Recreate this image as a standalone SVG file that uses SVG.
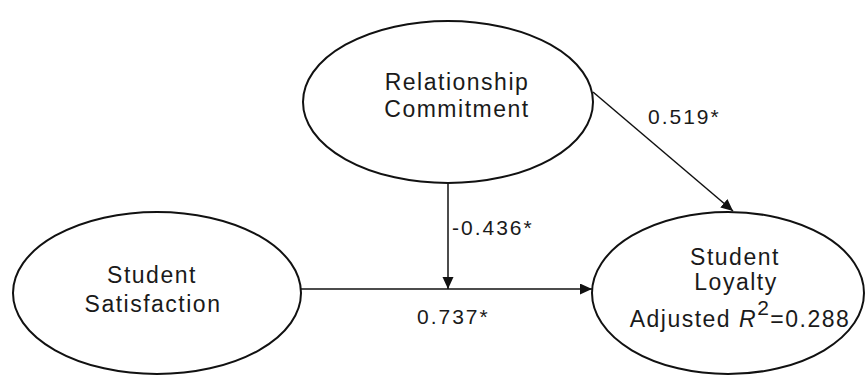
<svg xmlns="http://www.w3.org/2000/svg" width="867" height="376" viewBox="0 0 867 376">
<style>
.node{fill:#fff;stroke:#111;stroke-width:2}
.lbl{font-family:"Liberation Sans",Arial,sans-serif;font-size:23px;letter-spacing:1.5px;fill:#1a1a1a;text-anchor:middle}
.num{font-family:"Liberation Sans",Arial,sans-serif;font-size:21px;letter-spacing:2px;fill:#1a1a1a}
.edge{stroke:#111;stroke-width:1.5;fill:none}
</style>
<defs>
<marker id="ah" markerUnits="userSpaceOnUse" markerWidth="13" markerHeight="12" refX="12" refY="5.5" orient="auto">
<path d="M0,0 L12,5.5 L0,11 z" fill="#111"/>
</marker>
</defs>
<rect width="867" height="376" fill="#fff"/>
<g id="connectors">
<line class="edge" x1="593" y1="92" x2="733" y2="211" marker-end="url(#ah)"/>
<line class="edge" x1="448" y1="183" x2="448" y2="289" marker-end="url(#ah)"/>
<line class="edge" x1="301" y1="289" x2="592" y2="289" marker-end="url(#ah)"/>
<text class="num" x="648" y="124">0.519*</text>
<text class="num" x="452" y="235">-0.436*</text>
<text class="num" x="417" y="324">0.737*</text>
</g>
<g id="relationship-commitment">
<ellipse class="node" cx="448" cy="102" rx="145" ry="81"/>
<text class="lbl" x="457" y="90">Relationship</text>
<text class="lbl" x="457" y="117">Commitment</text>
</g>
<g id="student-satisfaction">
<ellipse class="node" cx="157" cy="293" rx="144" ry="81"/>
<text class="lbl" x="152" y="283">Student</text>
<text class="lbl" x="153" y="312">Satisfaction</text>
</g>
<g id="student-loyalty">
<ellipse class="node" cx="728" cy="293" rx="136" ry="81"/>
<text class="lbl" x="735" y="265">Student</text>
<text class="lbl" x="736" y="290">Loyalty</text>
<text class="lbl" x="740" y="327">Adjusted <tspan font-style="italic">R</tspan><tspan dy="-12" font-size="21px">2</tspan><tspan dy="12">=0.288</tspan></text>
</g>
</svg>
